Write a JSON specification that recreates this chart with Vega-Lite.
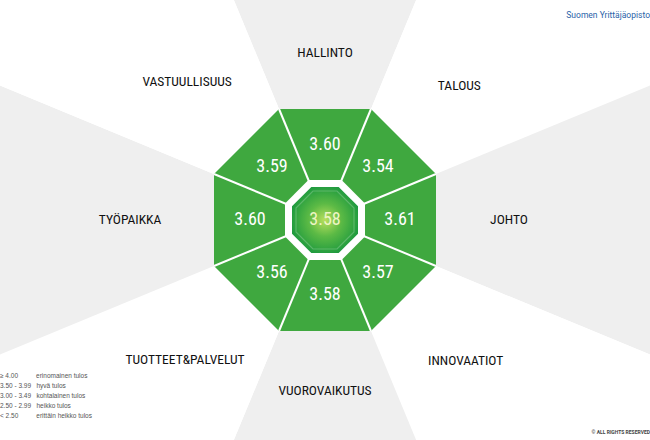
{
  "$schema": "https://vega.github.io/schema/vega-lite/v6.json",
  "width": 650,
  "height": 440,
  "padding": 0,
  "autosize": {"type": "none"},
  "background": "#ffffff",
  "config": {"view": {"stroke": null}},
  "title": {
    "text": "Suomen Yrittäjäopisto\u00a0\u00a0\u00a0\u00a0\u00a0\u00a0\u00a0\u00a0\u00a0",
    "subtitle": "© ALL RIGHTS RESERVED",
    "orient": "top",
    "anchor": "end",
    "frame": "group",
    "offset": -435,
    "font": "Roboto",
    "fontSize": 8.5,
    "fontWeight": "normal",
    "color": "#2a63a8",
    "subtitleFont": "Roboto",
    "subtitleFontSize": 5,
    "subtitleFontWeight": "bold",
    "subtitleColor": "#444444",
    "subtitlePadding": 411
  },
  "data": {
    "values": [
      {"idx": 0, "ulottuvuus": "HALLINTO", "arvo": 3.60, "luokka": "hyvä tulos"},
      {"idx": 1, "ulottuvuus": "TALOUS", "arvo": 3.54, "luokka": "hyvä tulos"},
      {"idx": 2, "ulottuvuus": "JOHTO", "arvo": 3.61, "luokka": "hyvä tulos"},
      {"idx": 3, "ulottuvuus": "INNOVAATIOT", "arvo": 3.57, "luokka": "hyvä tulos"},
      {"idx": 4, "ulottuvuus": "VUOROVAIKUTUS", "arvo": 3.58, "luokka": "hyvä tulos"},
      {"idx": 5, "ulottuvuus": "TUOTTEET&PALVELUT", "arvo": 3.56, "luokka": "hyvä tulos"},
      {"idx": 6, "ulottuvuus": "TYÖPAIKKA", "arvo": 3.60, "luokka": "hyvä tulos"},
      {"idx": 7, "ulottuvuus": "VASTUULLISUUS", "arvo": 3.59, "luokka": "hyvä tulos"}
    ]
  },
  "layer": [
    {
      "mark": {"type": "point", "filled": true, "opacity": 1, "strokeWidth": 0, "size": 705600, "clip": true,
               "shape": "M0,0L-0.41421,-1L0.41421,-1Z"},
      "encoding": {
        "angle": {"field": "idx", "type": "quantitative", "scale": {"domain": [0, 8], "range": [0, 360]}},
        "color": {"field": "ulottuvuus", "type": "nominal", "legend": null,
                  "scale": {"domain": ["HALLINTO", "TALOUS", "JOHTO", "INNOVAATIOT", "VUOROVAIKUTUS", "TUOTTEET&PALVELUT", "TYÖPAIKKA", "VASTUULLISUUS"],
                            "range": ["#efefef", "#ffffff", "#efefef", "#ffffff", "#efefef", "#ffffff", "#efefef", "#ffffff"]}}
      }
    },
    {
      "mark": {"type": "point", "filled": true, "opacity": 1, "strokeWidth": 0, "size": 49284,
               "shape": "M0,0L-0.41421,-1L0.41421,-1Z"},
      "encoding": {
        "angle": {"field": "idx", "type": "quantitative", "scale": {"domain": [0, 8], "range": [0, 360]}},
        "fill": {"field": "luokka", "type": "nominal",
                 "scale": {"domain": ["erinomainen tulos", "hyvä tulos", "kohtalainen tulos", "heikko tulos", "erittäin heikko tulos"],
                           "range": ["#1d7f35", "#3fa83f", "#f2c318", "#f08c1e", "#d9302a"]},
                 "legend": {
                   "title": null, "orient": "none", "legendX": -12, "legendY": 372, "padding": 0,
                   "symbolType": "square", "symbolSize": 64, "symbolStrokeWidth": 0, "rowPadding": 2,
                   "labelOffset": 4, "labelFont": "Liberation Sans", "labelFontSize": 6.5, "labelColor": "#555555",
                   "labelLimit": 300,
                   "labelExpr": "(datum.label == 'erinomainen tulos' ? '≥ 4.00\u00a0\u00a0\u00a0\u00a0\u00a0\u00a0\u00a0\u00a0\u00a0\u00a0' : datum.label == 'hyvä tulos' ? '3.50 - 3.99\u00a0\u00a0\u00a0' : datum.label == 'kohtalainen tulos' ? '3.00 - 3.49\u00a0\u00a0\u00a0' : datum.label == 'heikko tulos' ? '2.50 - 2.99\u00a0\u00a0\u00a0' : '< 2.50\u00a0\u00a0\u00a0\u00a0\u00a0\u00a0\u00a0\u00a0\u00a0\u00a0') + datum.label"
                 }}
      }
    },
    {
      "mark": {"type": "point", "filled": false, "opacity": 1, "stroke": "#ffffff", "strokeWidth": 2, "size": 49284,
               "shape": "M0,0L0.41421,-1"},
      "encoding": {
        "angle": {"field": "idx", "type": "quantitative", "scale": {"domain": [0, 8], "range": [0, 360]}}
      }
    },
    {
      "data": {"values": [{"kokonais": 3.58}]},
      "mark": {"type": "point", "filled": true, "opacity": 1, "strokeWidth": 0, "size": 6400, "color": "#ffffff",
               "shape": "M-0.41421,-1L0.41421,-1L1,-0.41421L1,0.41421L0.41421,1L-0.41421,1L-1,0.41421L-1,-0.41421Z"},
      "encoding": {}
    },
    {
      "data": {"values": [{"kokonais": 3.58}]},
      "mark": {"type": "point", "filled": true, "opacity": 1, "strokeWidth": 0, "size": 4356,
               "fill": {"gradient": "radial", "x1": 0.5, "y1": 0.5, "r1": 0, "x2": 0.5, "y2": 0.5, "r2": 0.55,
                        "stops": [{"offset": 0, "color": "#b9df5e"}, {"offset": 0.45, "color": "#5cba45"}, {"offset": 1, "color": "#1a983e"}]},
               "shape": "M-0.41421,-1L0.41421,-1L1,-0.41421L1,0.41421L0.41421,1L-0.41421,1L-1,0.41421L-1,-0.41421Z"},
      "encoding": {}
    },
    {
      "data": {"values": [{"kokonais": 3.58}]},
      "mark": {"type": "point", "filled": false, "opacity": 1, "stroke": "#ffffff", "strokeOpacity": 0.22, "strokeWidth": 1.2, "size": 3364,
               "shape": "M-0.41421,-1L0.41421,-1L1,-0.41421L1,0.41421L0.41421,1L-0.41421,1L-1,0.41421L-1,-0.41421Z"},
      "encoding": {}
    },
    {
      "data": {"values": [{"kokonais": 3.58}]},
      "mark": {"type": "text", "font": "Roboto Condensed, DejaVu Sans Condensed, Roboto, sans-serif", "fontSize": 18, "color": "#eef5c4"},
      "encoding": {"text": {"field": "kokonais", "type": "quantitative", "format": ".2f"}}
    },
    {
      "mark": {"type": "text", "radius": 75, "font": "Roboto Condensed, DejaVu Sans Condensed, Roboto, sans-serif", "fontSize": 18, "color": "#ffffff"},
      "encoding": {
        "theta": {"field": "idx", "type": "quantitative", "scale": {"domain": [0, 8]}},
        "text": {"field": "arvo", "type": "quantitative", "format": ".2f"}
      }
    },
    {
      "mark": {"type": "text", "font": "Roboto Condensed, DejaVu Sans Condensed, Roboto, sans-serif", "fontSize": 13.5, "fontWeight": "normal", "color": "#111111"},
      "encoding": {
        "theta": {"field": "idx", "type": "quantitative", "scale": {"domain": [0, 8]}},
        "radius": {"field": "idx", "type": "quantitative", "legend": null,
                   "scale": {"type": "linear", "zero": false, "domain": [0, 1, 2, 3, 4, 5, 6, 7], "range": [167, 190, 184, 199, 171, 198, 195, 195]}},
        "text": {"field": "ulottuvuus", "type": "nominal"}
      }
    }
  ]
}
